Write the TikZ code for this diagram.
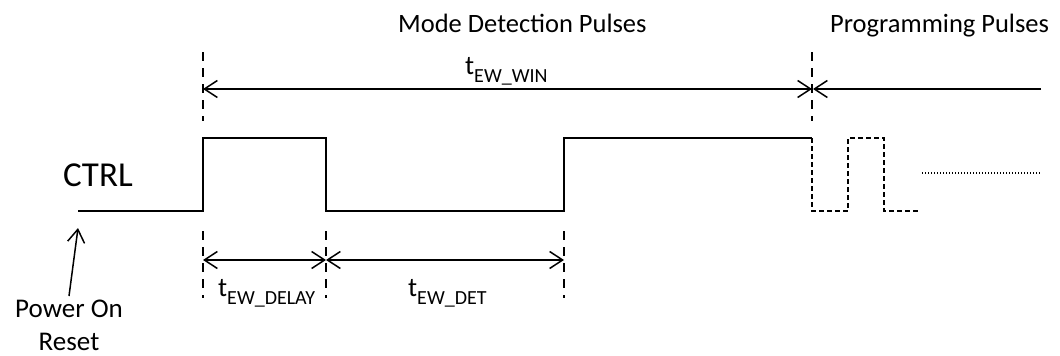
\documentclass[tikz,border=0pt]{standalone}
\usepackage{fontspec}
\setmainfont{Carlito}
\usetikzlibrary{arrows.meta}
\newcommand\tlab[1]{{\fontsize{27}{27}\selectfont t}\raisebox{-8.5pt}{\fontsize{20}{20}\selectfont #1}}
\tikzset{
  sig/.style={line width=1.8pt, line join=miter},
  sigdash/.style={line width=1.8pt, dash pattern=on 5pt off 3pt},
  vguide/.style={line width=1.6pt, dash pattern=on 9pt off 7pt},
  dimline/.style={line width=1.5pt},
  tip/.tip={Straight Barb[length=13pt,width=17pt,line width=1.5pt]},
  both/.style={dimline, tip-tip},
  oneend/.style={dimline, -tip},
  lab/.style={inner sep=0pt, anchor=base west, font=\fontsize{26.5}{32}\selectfont},
  dotline/.style={line width=1.5pt, dash pattern=on 1.4pt off 1.6pt}
}
\begin{document}
\begin{tikzpicture}[x=1pt,y=-1pt]
\useasboundingbox (0,0) rectangle (1060,356);
% texts
\node[lab] (mdp) at (398,32) {Mode Detection Pulses};
\node[lab] (pp) at (830,32) {Programming Pulses};
\node[lab] (win) at (465,74) {\tlab{EW\_WIN}};
\node[lab] (delay) at (218,296) {\tlab{EW\_DELAY}};
\node[lab] (det) at (408,296) {\tlab{EW\_DET}};
\node[inner sep=0pt, anchor=base west, font=\fontsize{35}{40}\selectfont] (ctrl) at (63,186) {CTRL};
\node[inner sep=0pt, anchor=base, font=\fontsize{27}{33}\selectfont, align=center] (por) at (69,350) {Power On\\Reset};
% key coordinates
\coordinate (s0) at (78,211);
\coordinate (r1l) at (203,211); \coordinate (r1h) at (203,138);
\coordinate (f1h) at (326,138); \coordinate (f1l) at (326,211);
\coordinate (r2l) at (564,211); \coordinate (r2h) at (564,138);
\coordinate (eh) at (812,138); \coordinate (el) at (812,211);
\coordinate (p1l) at (848,211); \coordinate (p1h) at (848,138);
\coordinate (p2h) at (884,138); \coordinate (p2l) at (884,211);
\coordinate (p3) at (918,211);
\coordinate (dot0) at (922,173); \coordinate (dot1) at (1040,173);
% guides
\coordinate (ga1) at (203,52); \coordinate (ga2) at (203,121);
\coordinate (gb1) at (812,52); \coordinate (gb2) at (812,121);
\coordinate (gc1) at (203,231); \coordinate (gc2) at (203,298);
\coordinate (gd1) at (326,231); \coordinate (gd2) at (326,298);
\coordinate (ge1) at (564,231); \coordinate (ge2) at (564,298);
\coordinate (wa) at (203,89); \coordinate (wb) at (812,89); \coordinate (wc) at (1041,89);
\coordinate (da) at (203,260); \coordinate (db) at (326,260); \coordinate (dc) at (564,260);
\coordinate (pa) at (69,296); \coordinate (pb) at (78,228);
% signal
\draw[sig] (s0) -- (r1l) -- (r1h) -- (f1h) -- (f1l) -- (r2l) -- (r2h) -- (eh);
\draw[sigdash] (eh) -- (el) -- (p1l) -- (p1h) -- (p2h) -- (p2l) -- (p3);
\draw[dotline] (dot0) -- (dot1);
% guides
\draw[vguide] (ga1) -- (ga2);
\draw[vguide] (gb1) -- (gb2);
\draw[vguide] (gc1) -- (gc2);
\draw[vguide] (gd1) -- (gd2);
\draw[vguide] (ge1) -- (ge2);
% dimension arrows
\draw[both] (wa) -- (wb);
\draw[oneend] (wc) -- ([xshift=1pt]wb);
\draw[both] (da) -- (db);
\draw[both] (db) -- (dc);
\draw[oneend] (pa) -- (pb);
\end{tikzpicture}
\end{document}
